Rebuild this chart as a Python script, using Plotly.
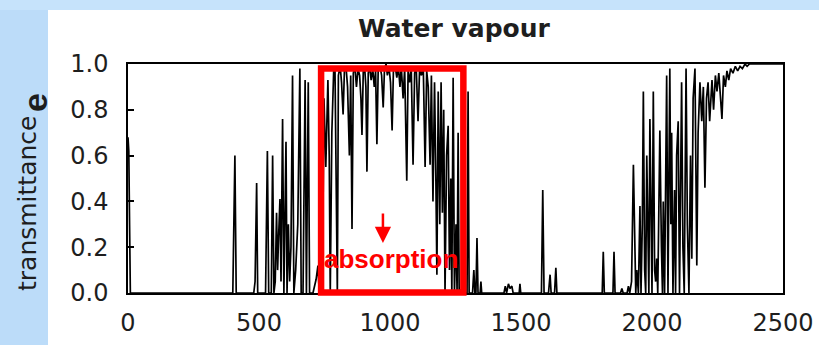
import plotly.graph_objects as go

# ---- data (wavenumber, transmittance) ----
wavenumber = [
    0, 3, 6, 9, 400, 408, 413, 480, 485, 491, 495, 525, 532, 537, 547, 552, 557,
    562, 567, 571, 575, 580, 584, 590, 595, 598, 603, 607, 612, 617, 622, 628,
    633, 640, 648, 656, 661, 668, 676, 681, 688, 693, 706, 718, 725, 730, 735,
    740, 744, 748, 755, 763, 768, 772, 778, 785, 790, 795, 799, 803, 810, 815,
    821, 826, 832, 838, 845, 850, 855, 860, 866, 872, 878, 884, 889, 893, 898,
    903, 908, 912, 917, 922, 928, 934, 940, 945, 950, 955, 962, 968, 974, 979,
    985, 990, 996, 1002, 1008, 1013, 1020, 1026, 1032, 1038, 1043, 1050, 1056,
    1064, 1069, 1075, 1081, 1088, 1094, 1100, 1107, 1113, 1120, 1127, 1134,
    1140, 1146, 1153, 1158, 1164, 1170, 1175, 1179, 1184, 1190, 1195, 1200,
    1205, 1210, 1216, 1222, 1227, 1232, 1236, 1241, 1246, 1252, 1256, 1260,
    1264, 1275, 1281, 1286, 1294, 1298, 1302, 1315, 1320, 1324, 1328, 1332,
    1336, 1344, 1347, 1350, 1435, 1440, 1445, 1452, 1458, 1465, 1470, 1493,
    1496, 1499, 1578, 1583, 1588, 1605, 1611, 1615, 1628, 1633, 1637, 1810,
    1814, 1818, 1851, 1855, 1859, 1880, 1885, 1890, 1905, 1910, 1915, 1922,
    1929, 1934, 1938, 1942, 1948, 1954, 1958, 1963, 1967, 1972, 1976, 1980,
    1985, 1988, 1992, 1997, 2000, 2005, 2010, 2014, 2018, 2022, 2030, 2036,
    2040, 2043, 2048, 2056, 2061, 2068, 2072, 2075, 2080, 2086, 2090, 2094,
    2100, 2105, 2113, 2118, 2123, 2130, 2135, 2141, 2147, 2152, 2157, 2164,
    2168, 2171, 2176, 2183, 2190, 2196, 2202, 2208, 2214, 2220, 2229, 2235,
    2242, 2248, 2255, 2262, 2267, 2273, 2280, 2286, 2293, 2300, 2309, 2318,
    2327, 2336, 2345, 2355, 2363, 2372, 2500,
]
transmittance = [
    0.68, 0.62, 0.30, 0.0, 0.0, 0.60, 0.0, 0.0, 0.05, 0.48, 0.0, 0.0, 0.62, 0.0,
    0.0, 0.60, 0.0, 0.05, 0.35, 0.10, 0.25, 0.41, 0.05, 0.76, 0.0, 0.20, 0.66,
    0.0, 0.30, 0.05, 0.20, 0.95, 0.0, 0.10, 0.30, 0.98, 0.0, 0.0, 0.93, 0.0,
    0.92, 0.0, 0.0, 0.06, 0.12, 0.0, 0.50, 0.95, 0.30, 0.85, 0.55, 0.93, 0.60,
    0.0, 0.70, 0.97, 0.98, 0.50, 0.0, 0.95, 0.99, 0.92, 0.78, 0.97, 0.99, 0.90,
    0.60, 0.95, 0.28, 0.96, 0.99, 0.90, 0.98, 0.95, 0.85, 0.69, 0.97, 0.99,
    0.90, 0.53, 0.96, 0.99, 0.93, 0.98, 0.90, 0.97, 0.65, 0.98, 0.99, 0.95,
    0.81, 0.98, 1.0, 0.95, 0.99, 0.92, 0.71, 0.97, 0.99, 0.94, 0.99, 0.90,
    0.99, 0.85, 0.98, 0.49, 0.97, 0.92, 0.99, 0.56, 0.96, 0.99, 0.75, 0.98,
    0.95, 0.99, 0.55, 0.97, 0.90, 0.56, 0.95, 0.40, 0.92, 0.50, 0.08, 0.88,
    0.30, 0.92, 0.35, 0.80, 0.0, 0.60, 0.73, 0.10, 0.50, 0.0, 0.94, 0.0, 0.30,
    0.0, 0.70, 0.0, 0.0, 0.15, 0.0, 0.0, 0.88, 0.0, 0.0, 0.10, 0.0, 0.0, 0.24,
    0.0, 0.0, 0.05, 0.0, 0.0, 0.03, 0.0, 0.04, 0.02, 0.03, 0.0, 0.0, 0.04, 0.0,
    0.0, 0.45, 0.0, 0.0, 0.08, 0.0, 0.0, 0.11, 0.0, 0.0, 0.18, 0.0, 0.0, 0.18,
    0.0, 0.0, 0.02, 0.0, 0.0, 0.03, 0.0, 0.05, 0.56, 0.15, 0.0, 0.10, 0.0,
    0.38, 0.0, 0.30, 0.88, 0.10, 0.0, 0.60, 0.27, 0.0, 0.76, 0.30, 0.0, 0.88,
    0.10, 0.05, 0.15, 0.0, 0.71, 0.20, 0.0, 0.40, 0.0, 0.95, 0.0, 0.98, 0.30,
    0.70, 0.0, 0.45, 0.0, 0.60, 0.75, 0.0, 0.92, 0.20, 0.0, 0.98, 0.30, 0.0,
    0.60, 0.15, 0.85, 0.98, 0.50, 0.12, 0.70, 0.92, 0.75, 0.90, 0.46, 0.85,
    0.92, 0.75, 0.93, 0.80, 0.95, 0.88, 0.96, 0.85, 0.76, 0.95, 0.90, 0.97,
    0.93, 0.98, 0.96, 0.99, 0.97, 0.99, 0.98, 1.0, 0.99, 1.0, 1.0,
]
x_ticks = [0, 500, 1000, 1500, 2000, 2500]
y_ticks = [0.0, 0.2, 0.4, 0.6, 0.8, 1.0]
y_ticklabels = ["0.0", "0.2", "0.4", "0.6", "0.8", "1.0"]
box_range = [737, 1280]       # highlighted window (wavenumber)
arrow_x = 973
label_x = 1004

W, H = 819, 345
BLUE = "#bcdcf9"
TICKFONT = dict(family="DejaVu Sans", size=24, color="#1e1e1e")

fig = go.Figure()
fig.add_trace(go.Scatter(x=wavenumber, y=transmittance, mode="lines",
                         line=dict(color="black", width=1.7), showlegend=False,
                         hoverinfo="skip"))

fig.update_layout(
    width=W, height=H, autosize=False,
    margin=dict(l=0, r=0, t=0, b=0, pad=0),
    paper_bgcolor="white", plot_bgcolor="white",
    xaxis=dict(domain=[128 / W, 783 / W], range=[0, 2500], tickvals=x_ticks,
               ticks="", showgrid=False, zeroline=False, showline=True,
               mirror=True, linecolor="black", linewidth=1.5,
               tickfont=TICKFONT, ticklabelstandoff=7, automargin=False),
    yaxis=dict(domain=[1 - 293 / H, 1 - 64 / H], range=[0, 1],
               tickvals=y_ticks, ticktext=y_ticklabels,
               ticks="inside", ticklen=6, tickcolor="black", tickwidth=1.5,
               showgrid=False, zeroline=False, showline=True, mirror=True,
               linecolor="black", linewidth=1.5, tickfont=TICKFONT,
               ticklabelstandoff=13, automargin=False),
    shapes=[
        dict(type="rect", xref="paper", yref="paper", x0=0, x1=48 / W,
             y0=0, y1=1, fillcolor=BLUE, line=dict(width=0), layer="below"),
        dict(type="rect", xref="paper", yref="paper", x0=0, x1=1,
             y0=1 - 10 / H, y1=1, fillcolor="#c6e3fb", line=dict(width=0),
             layer="below"),
        dict(type="rect", xref="x", yref="paper", x0=box_range[0],
             x1=box_range[1], y0=1 - 292.5 / H, y1=1 - 68.5 / H,
             line=dict(color="#ff0000", width=6.5), fillcolor="rgba(0,0,0,0)"),
    ],
    annotations=[
        dict(text="Water vapour", xref="paper", yref="paper", x=454 / W,
             y=1 - 28 / H, showarrow=False, xanchor="center", yanchor="middle",
             font=dict(family="DejaVu Sans", size=25, color="#1e1e1e",
                       weight="bold")),
        dict(text="transmittance", xref="paper", yref="paper", x=27 / W,
             y=1 - 204 / H, showarrow=False, textangle=-90,
             xanchor="center", yanchor="middle",
             font=dict(family="DejaVu Sans", size=25, color="#1e1e1e")),
        dict(text="e", xref="paper", yref="paper", x=35 / W, y=1 - 103 / H,
             showarrow=False, textangle=-90, xanchor="center",
             yanchor="middle",
             font=dict(family="Liberation Sans", size=34, color="#1e1e1e",
                       weight="bold")),
        dict(text="", xref="x", yref="y", x=arrow_x, y=0.218, ax=0, ay=-31,
             showarrow=True, arrowhead=2, arrowsize=1.3, arrowwidth=2.5,
             arrowcolor="#ff0000"),
        dict(text="absorption", xref="x", yref="y", x=label_x, y=0.15,
             showarrow=False, xanchor="center", yanchor="middle",
             font=dict(family="Liberation Sans", size=26, color="#ff0000",
                       weight="bold")),
    ],
)

fig.write_html(
    "out.html",
    config={"responsive": False, "displayModeBar": False},
    post_script="document.body.style.margin='0';"
                "document.body.style.overflow='hidden';",
)
